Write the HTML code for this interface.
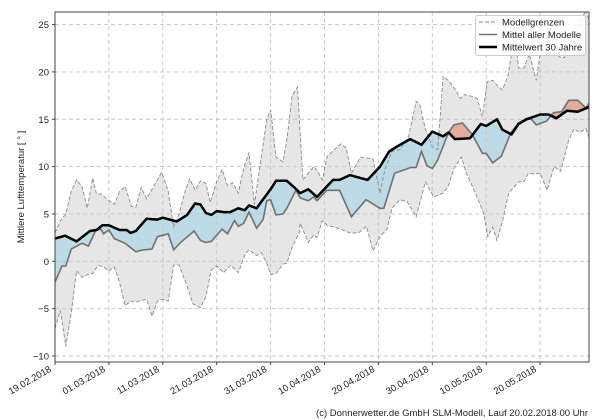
<!DOCTYPE html>
<html><head><meta charset="utf-8">
<style>
html,body{margin:0;padding:0;background:#fff;}
svg{display:block;font-family:"Liberation Sans","DejaVu Sans",sans-serif;}
</style></head>
<body>
<svg id="s" width="600" height="420" xmlns="http://www.w3.org/2000/svg"></svg>
<script>
const L=55,R=589,T=12,B=362;
const X=d=>L+d*5.39, Y=v=>261.3-v*9.47;
const clim=[[0,2.4],[1.9,2.7],[4,2.1],[6.5,3.2],[7.7,3.3],[8.8,3.8],[10,3.8],[12,3.3],[13.3,3.3],[14,3.0],[15,3.2],[17,4.5],[19,4.4],[20,4.6],[22.6,4.2],[24.5,4.9],[26,6.1],[27,6.0],[28,5.1],[29,4.9],[30,5.3],[31.3,5.2],[32.5,5.2],[34,5.6],[35.2,5.4],[36,5.9],[37.4,5.6],[38.3,6.3],[40,7.6],[41,8.5],[43,8.5],[44.4,7.8],[45.5,7.2],[47,7.6],[48.6,6.8],[51.6,8.6],[52.8,8.6],[54.7,9.1],[58,8.6],[60.3,10],[62,11.6],[63.4,12.1],[65.9,12.9],[68,12.3],[70,13.7],[72,13.2],[73,13.6],[74.2,12.9],[77,13.0],[79,14.5],[80,14.3],[82,15.0],[83,13.9],[84.7,13.4],[86,14.5],[87.5,15],[90,15.5],[91.6,15.5],[93,15.1],[95,15.9],[97,15.8],[99.5,16.4]];
const mean=[[0,-2.2],[1.3,-0.5],[2,-0.5],[3,1.3],[5,1.9],[6.2,1.6],[7.5,3.2],[8.5,3.4],[9,2.9],[10,3.3],[11,2.4],[13,1.9],[15,1.0],[16.3,1.2],[18,1.3],[19,2.6],[21,2.9],[22,1.2],[23.3,2.0],[25.8,3.2],[27,2.2],[28,2.0],[29,2.1],[31,3.4],[32,2.9],[33.3,4.3],[34,3.7],[35,4.0],[36,5.2],[37.4,3.5],[38.6,4.4],[39.3,6.4],[40,6.5],[41,4.9],[42.3,5.0],[43,5.6],[44.7,7.5],[45.5,6.7],[47,6.4],[48,6.8],[48.6,6.4],[50.4,7.5],[52.8,7.5],[55,4.7],[57.7,6.5],[60.3,5.6],[61,5.6],[63,9.3],[66,9.9],[67,9.9],[68,11.6],[69,10.1],[70,9.8],[71,10.7],[73,13.6],[74,14.4],[75.6,14.6],[77.4,13.4],[79.3,11.4],[80,11.4],[81.2,10.4],[82.8,11.1],[84.6,13.6],[86,14.6],[87.5,15.1],[88.4,15.0],[89.3,14.4],[91.2,14.8],[92.5,15.7],[94,15.8],[95.3,17],[97,17],[98.5,16.2],[99.5,17]];
const up=[[0,3],[1,4.3],[2,5.0],[3,7.4],[4,8.6],[5,7.9],[6,5.6],[7,8.8],[7.7,7.1],[8.6,7.1],[9.6,6.6],[11,6.0],[12,7.4],[13,7.9],[14.2,5.8],[15,5.7],[16,7.8],[17,6.6],[18,7.6],[19.8,9.4],[21,7.4],[22,3.6],[23,5.0],[24.2,7.5],[25,8.7],[26,7.5],[27,8.5],[28,8.2],[28.8,6.2],[30,8.4],[31,9.7],[32,8.0],[33,8.3],[34,7.2],[35,9.8],[36,11.5],[37,6.0],[38,10],[39.3,15],[40,16],[41,11],[42.3,10.5],[43,12.8],[44,17.5],[45,18.4],[46,8.6],[48,10],[48.6,9.6],[49.6,8.6],[50.5,11.1],[53,12.4],[54,12],[55,9.3],[56.7,11],[59,10.8],[60.3,7.2],[61.2,9.7],[62.5,11.6],[64,11.8],[65.6,13.2],[67,16.9],[67.7,16.5],[68.7,14.0],[70,12.1],[71,11.8],[72,19.5],[73,19.1],[74.3,18.1],[75.2,17.2],[76,17.6],[77.4,17.4],[78.3,17.2],[79.3,15.3],[80.2,19],[81.2,19.1],[82,18.6],[83,18.1],[84,19.5],[84.6,21.6],[85.2,25.1],[86,20.4],[87,20.4],[88,21.9],[89.3,19.1],[90,21.9],[91.6,25.5],[92.5,25.2],[93.5,21.6],[94.5,21.5],[95.3,23.7],[97,24.8],[98.5,26.5],[99.5,24.6]];
const lo=[[0,-7.1],[1,-5.2],[2,-9.0],[3,-5.5],[4,-1.0],[5,-1.7],[6,-1.4],[7,-1.3],[8,-0.4],[9,-0.6],[10,-1.0],[11,-0.6],[12,-2.3],[13,-4.7],[14,-4.2],[15,-4.3],[17,-4.0],[18,-5.8],[19,-4.2],[20,-4.0],[21,-4.2],[22,-0.4],[23,-0.4],[24.3,-2.3],[25.6,-4.5],[27,-4.9],[28,-3.7],[29,-0.9],[30,-0.5],[31.3,-1.2],[32.6,-0.4],[34,-1.2],[35.3,0.8],[36,1.2],[37.4,0.6],[38.3,0.9],[39.3,-0.2],[40,-1.4],[41,-1.3],[42.3,-0.3],[43,-0.2],[44,1.5],[45.3,3.0],[45.5,4.0],[47,2.0],[48,2.8],[48.6,2.5],[49.6,4.3],[50.5,3.8],[53,3.4],[54.7,3.0],[56.3,3.0],[57.8,3.7],[59,1.1],[60.3,2.6],[61.6,3.4],[62.5,5.6],[64,6.5],[65.3,6.3],[67,4.7],[68,6.8],[68.7,8.4],[70.3,6.8],[72,7.2],[73,8.0],[74,9.8],[75.4,11.0],[76.3,9.3],[78,7.2],[79.5,5.1],[80.3,2.6],[81.2,3.6],[82,2.2],[83,4.2],[84.2,7.2],[86,8.4],[87,8.4],[87.8,9.3],[89,9.2],[90,9.3],[91.3,7.5],[92.6,10],[93.8,9.5],[95.3,12.8],[96.3,14.0],[97.3,13.6],[98.5,14.0],[99.5,12.4]];
const pts=a=>a.map(p=>X(p[0]).toFixed(1)+','+Y(p[1]).toFixed(1)).join(' ');
const rev=a=>a.slice().reverse();
let h='<defs><clipPath id="ca"><rect x="'+L+'" y="'+T+'" width="'+(R-L)+'" height="'+(B-T)+'"/></clipPath>';
h+='<clipPath id="aboveMean"><polygon points="'+pts(mean)+' '+X(99.5)+',0 '+X(0)+',0"/></clipPath>';
h+='<clipPath id="aboveClim"><polygon points="'+pts(clim)+' '+X(99.5)+',0 '+X(0)+',0"/></clipPath></defs>';
h+='<g clip-path="url(#ca)">';
h+='<polygon points="'+pts(up)+' '+pts(rev(lo))+'" fill="#e6e6e6"/>';
h+='<g clip-path="url(#aboveMean)"><polygon points="'+pts(clim)+' '+X(99.5)+',420 '+X(0)+',420" fill="#bcdbe6"/></g>';
h+='<g clip-path="url(#aboveClim)"><polygon points="'+pts(mean)+' '+X(99.5)+',420 '+X(0)+',420" fill="#e5ab9e"/></g>';
for(let v=-10;v<=25;v+=5){h+='<line x1="'+L+'" x2="'+R+'" y1="'+Y(v)+'" y2="'+Y(v)+'" stroke="#c4c4c4" stroke-width="0.9" stroke-dasharray="4,3"/>';}
for(let d=0;d<=90;d+=10){h+='<line y1="'+T+'" y2="'+B+'" x1="'+X(d)+'" x2="'+X(d)+'" stroke="#c4c4c4" stroke-width="0.9" stroke-dasharray="4,3"/>';}
h+='<polyline points="'+pts(up)+'" fill="none" stroke="#8a8a8a" stroke-width="0.9" stroke-dasharray="4,2"/>';
h+='<polyline points="'+pts(lo)+'" fill="none" stroke="#8a8a8a" stroke-width="0.9" stroke-dasharray="4,2"/>';
h+='<polyline points="'+pts(mean)+'" fill="none" stroke="#707070" stroke-width="1.6"/>';
h+='<polyline points="'+pts(clim)+'" fill="none" stroke="#000" stroke-width="2.5" stroke-linejoin="round"/>';
h+='</g>';
h+='<rect x="'+L+'" y="'+T+'" width="'+(R-L)+'" height="'+(B-T)+'" fill="none" stroke="#444" stroke-width="1"/>';
for(let v=-10;v<=25;v+=5){h+='<line x1="'+(L-3)+'" x2="'+L+'" y1="'+Y(v)+'" y2="'+Y(v)+'" stroke="#444"/><text x="'+(L-6)+'" y="'+(Y(v)+3.5)+'" font-size="9.5" text-anchor="end" fill="#222">'+(v<0?'\u2212'+(-v):v)+'</text>';}
const dates=['19.02.2018','01.03.2018','11.03.2018','21.03.2018','31.03.2018','10.04.2018','20.04.2018','30.04.2018','10.05.2018','20.05.2018'];
dates.forEach((t,i)=>{const x=X(i*10);h+='<line x1="'+x+'" x2="'+x+'" y1="'+B+'" y2="'+(B+3)+'" stroke="#444"/><text transform="translate('+(x-3)+','+(B+9)+') rotate(-30)" font-size="9.5" text-anchor="end" fill="#222">'+t+'</text>';});
h+='<text transform="translate(24,187) rotate(-90)" font-size="9.5" text-anchor="middle" fill="#222">Mittlere Lufttemperatur [ ° ]</text>';
h+='<rect x="475.5" y="15.5" width="110" height="40" rx="2" fill="#fff" fill-opacity="0.85" stroke="#ccc"/>';
h+='<line x1="479" x2="497" y1="22" y2="22" stroke="#8a8a8a" stroke-dasharray="4,2"/><text x="502" y="25.5" font-size="9.5" fill="#222">Modellgrenzen</text>';
h+='<line x1="479" x2="497" y1="34.5" y2="34.5" stroke="#707070" stroke-width="1.6"/><text x="502" y="38" font-size="9.5" fill="#222">Mittel aller Modelle</text>';
h+='<line x1="479" x2="497" y1="47" y2="47" stroke="#000" stroke-width="2.5"/><text x="502" y="50.5" font-size="9.5" fill="#222">Mittelwert 30 Jahre</text>';
h+='<text x="588" y="416" font-size="9.5" text-anchor="end" fill="#222">(c) Donnerwetter.de GmbH SLM-Modell, Lauf 20.02.2018 00 Uhr</text>';
document.getElementById('s').innerHTML=h;
</script>
</body></html>
